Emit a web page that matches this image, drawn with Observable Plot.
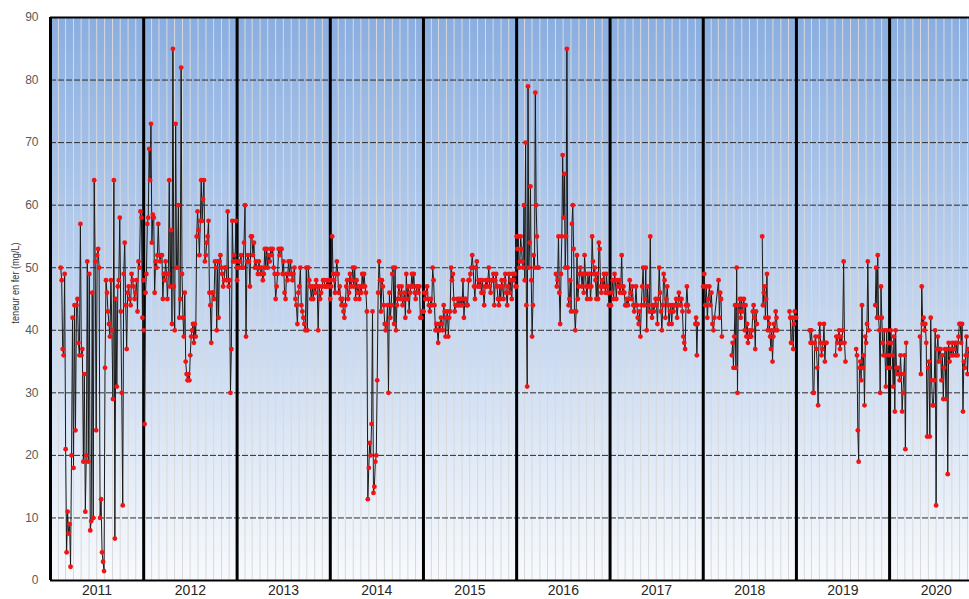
<!DOCTYPE html>
<html>
<head>
<meta charset="utf-8">
<script src="https://cdn.jsdelivr.net/npm/d3@7"></script>
<script src="https://cdn.jsdelivr.net/npm/@observablehq/plot@0.6"></script>
<style>
  html, body { margin: 0; padding: 0; background: #ffffff; }
  #chart svg { display: block; }
</style>
</head>
<body>
<div id="chart"></div>
<script>
// ---- tick labels / categories ----
const years = [2011, 2012, 2013, 2014, 2015, 2016, 2017, 2018, 2019, 2020];
const yTicks = [0, 10, 20, 30, 40, 50, 60, 70, 80, 90];
const dashedLevels = [10, 20, 30, 40, 50, 60, 70, 80];
const yLabel = "teneur en fer (mg/L)";

// ---- iron content readings (mg/L), in time order within each sampling span ----
const fe2011 = [50, 48, 37, 36, 49, 21, 4.5, 11, 7.5, 9, 2.2, 20, 42, 18, 44, 24, 44, 45, 38, 36, 57, 36, 37, 19, 33, 11, 20, 51, 19, 49, 8, 9.5, 46, 10, 64, 51, 24, 52, 53, 50, 10, 13, 4.5, 3, 1.5, 34, 48, 46, 43, 41, 39, 48, 40, 29, 64, 6.7, 45, 31, 47, 48, 58, 43, 30, 12, 49, 54, 44, 37, 46, 47, 45, 44, 49, 48, 47, 45, 46, 48, 43, 51, 50, 59, 58, 42, 48];
const fe2012 = [40, 25, 46, 49, 57, 58, 69, 64, 73, 54, 58.5, 58, 46, 51, 50, 52, 57, 52, 51, 52, 52, 45, 49, 48, 51, 49, 45, 49, 64, 47, 56, 41, 85, 47, 40, 73, 50, 50, 60, 42, 45, 82, 49, 42, 39, 46, 35, 33, 32, 33, 32, 36, 39, 40, 41, 38, 41, 39, 55, 59, 56, 52, 57.5, 64, 57.5, 61, 64, 51, 52, 54, 55, 57.5, 46, 44, 38, 46, 46, 45, 51, 50, 40, 51, 42, 51, 52, 50, 49, 47, 48, 50, 50, 48, 59, 47, 48, 30, 37, 57.5, 51, 52, 51, 57.5, 50];
const fe2013 = [48, 51, 50, 51, 52, 50, 50, 54, 60, 39, 51, 52, 51, 47, 55, 55, 52, 54, 50, 51, 50, 49, 51, 50, 49, 50, 48, 49, 53, 50, 53, 50, 52, 51, 53, 52, 53, 50, 49, 45, 47, 49, 53, 52, 53, 53, 49, 51, 46, 45, 49, 48, 51, 49, 51, 49, 48, 49, 50, 45, 44, 41, 46, 47, 50, 44, 43, 42, 41, 40, 50, 40, 50, 48, 47, 45, 47, 45, 47, 46, 48, 47, 40, 47, 45, 46, 47, 48, 48, 47, 47, 48, 47, 48, 48];
const fe2014 = [45, 47, 55, 49, 48, 46, 49, 51, 49, 46, 47, 45, 44, 45, 43, 42, 44, 47, 48, 45, 46, 49, 47, 48, 50, 47, 50, 45, 48, 46, 47, 45, 47, 46, 49, 47, 49, 47, 46, 43, 13, 18, 22, 20, 25, 43, 14, 15, 19, 20, 32, 46, 51, 48, 43, 48, 47, 44, 41, 40, 41, 44, 30, 46, 42, 44, 49, 50, 41, 50, 40, 44, 45, 47, 46, 45, 47, 44, 45, 46, 42, 49, 45, 47, 43, 46, 47, 49, 47, 49, 46, 45, 47, 47, 46, 47, 42, 42, 43, 43];
const fe2015 = [43, 46, 45, 46, 47, 45, 44, 43, 45, 44, 50, 48, 44, 40, 41, 40, 38, 41, 40, 42, 41, 40, 44, 43, 39, 42, 43, 39, 42, 43, 50, 48, 49, 45, 43, 44, 44, 45, 44, 45, 44, 45, 44, 48, 42, 45, 45, 44, 44, 48, 48, 49, 50, 52, 50, 47, 45, 50, 51, 47, 48, 47, 48, 46, 48, 46, 44, 47, 48, 47, 48, 50, 47, 46, 48, 48, 49, 44, 48, 49, 47, 45, 44, 47, 45, 48, 47, 45, 48, 49, 46, 44, 47, 49, 46, 48, 45, 49, 48, 49, 47, 47];
const fe2016a = [55, 53, 55, 50, 51, 55, 53, 51, 50, 60, 48, 70, 44, 31, 79, 50, 54, 63, 48, 39, 44, 52, 50, 78, 60, 55, 50, 50];
const fe2016b = [49, 47, 48, 55, 46, 41, 49, 55, 68, 58, 65, 50, 55, 85, 50, 44, 45, 48, 43, 57, 60, 53, 43, 40, 43, 52, 45, 47, 49, 50, 49, 47, 49, 46, 52, 49, 47, 45, 49, 47, 49, 45, 47, 55, 51, 49, 50, 48, 45, 49, 45, 54, 53, 47, 46, 48, 47, 49, 47, 46, 49, 47, 46, 44, 44];
const fe2017a = [44, 44, 46, 48, 45, 49, 48, 45, 48, 47, 48, 46, 47, 52, 46, 47, 46, 44, 44, 45, 44, 45, 48, 46, 45, 47, 44, 43, 44, 47, 44, 42, 41, 43, 39, 44, 47, 50, 44, 45, 50, 40, 47, 44, 43, 55, 43, 42, 44, 43, 44, 45, 44, 41, 45, 50, 46, 43, 40, 44, 49, 48, 42, 45, 47, 44, 41, 43, 44, 41, 44, 43, 44, 44, 45, 42, 44, 46, 45, 44, 45, 43, 39, 38, 37, 44, 47, 44, 43];
const fe2017b = [41, 42, 36, 41];
const fe2018a = [47, 49, 44, 47, 42, 45, 47, 44, 46, 41, 40, 42];
const fe2018b = [48, 42, 46, 45, 39];
const fe2018c = [36, 38, 34, 39, 44, 34, 50, 30, 44, 43, 45, 42, 45, 43, 44, 45, 40, 44, 39, 41, 38, 39, 40, 39, 39, 40, 43, 44, 42, 37, 43, 41];
const fe2018d = [55, 44, 46, 47, 42, 45, 49, 40, 42, 41, 39, 37, 40, 35, 39, 41, 40, 43, 42, 40];
const fe2018e = [43, 42, 38, 38, 42, 37, 41, 43, 42, 42];
const fe2019a = [40, 38, 40, 38, 30, 30, 38, 39, 37, 34, 28, 39, 41, 38, 36, 37, 38, 41, 35, 38, 38];
const fe2019b = [36, 39, 38, 39, 40, 37, 39, 38, 40, 51, 38, 35];
const fe2019c = [37, 36, 24, 19, 34, 35, 32, 44, 34, 36, 28, 39, 38, 41, 51, 40];
const fe2019d = [44, 50, 42, 52, 42, 40, 30, 47, 42, 38, 36, 40, 36, 31, 40, 34, 38, 36, 34, 40, 38, 36, 31, 39, 27, 40, 34, 33, 34, 33, 32, 36, 33, 27, 30, 33, 36, 21, 38];
const fe2020 = [39, 33, 47, 41, 42, 40, 41, 38, 23, 34, 35, 23, 42, 32, 28, 28, 32, 40, 12, 37, 39, 35, 37, 37, 32, 36, 29, 34, 37, 29, 37, 17, 38, 35, 37, 36, 38, 36, 37, 38, 36, 38, 36, 39, 41, 41, 38, 41, 27, 35, 34, 36, 39, 33, 37, 36];

// sampling spans: first date, last date, readings
const spans = [
  ["2011-02-10", "2011-12-31", fe2011],
  ["2012-01-01", "2012-12-31", fe2012],
  ["2013-01-01", "2013-12-31", fe2013],
  ["2014-01-01", "2014-12-31", fe2014],
  ["2015-01-01", "2015-12-31", fe2015],
  ["2016-01-01", "2016-03-27", fe2016a],
  ["2016-06-03", "2016-12-31", fe2016b],
  ["2017-01-01", "2017-11-05", fe2017a],
  ["2017-12-01", "2017-12-10", fe2017b],
  ["2018-01-01", "2018-02-14", fe2018a],
  ["2018-03-02", "2018-03-15", fe2018b],
  ["2018-04-23", "2018-07-30", fe2018c],
  ["2018-08-20", "2018-10-18", fe2018d],
  ["2018-12-05", "2018-12-31", fe2018e],
  ["2019-02-22", "2019-04-29", fe2019a],
  ["2019-06-03", "2019-07-12", fe2019b],
  ["2019-08-23", "2019-10-11", fe2019c],
  ["2019-11-06", "2020-03-06", fe2019d],
  ["2020-04-29", "2020-11-08", fe2020]
];

const parse = d3.utcParse("%Y-%m-%d");
const DAY = 864e5;
const data = [];
let prevEnd = null;
for (const [s, e, vals] of spans) {
  const t0 = parse(s), t1 = parse(e);
  if (prevEnd && (t0 - prevEnd) > 20 * DAY) {
    data.push({date: new Date((+prevEnd + +t0) / 2), fe: NaN}); // break the line at sampling gaps
  }
  vals.forEach((v, i) => {
    data.push({date: new Date(+t0 + (t1 - t0) * i / (vals.length - 1)), fe: v});
  });
  prevEnd = t1;
}
const points = data.filter(d => Number.isFinite(d.fe));

const xStart = new Date(Date.UTC(2011, 0, 1));
const xEnd = new Date(Date.UTC(2020, 10, 9));
const yearStarts = years.slice(1).map(y => new Date(Date.UTC(y, 0, 1)));
const yearMids = years.map(y => new Date(Date.UTC(y, 6, 2)));
const months = d3.utcMonth.range(new Date(Date.UTC(2011, 1, 1)), xEnd);

const FRAME_FILL = "#8db0e2";

const plot = Plot.plot({
  width: 969,
  height: 599,
  marginTop: 17,
  marginBottom: 19,
  marginLeft: 50,
  marginRight: 0,
  style: {fontFamily: "'Liberation Sans', Arial, sans-serif", background: "#ffffff", overflow: "hidden"},
  x: {type: "utc", domain: [xStart, xEnd]},
  y: {domain: [0, 90]},
  marks: [
    Plot.frame({fill: FRAME_FILL, stroke: "none"}),
    Plot.ruleX(months, {stroke: "#d9d9d9", strokeWidth: 1}),
    Plot.ruleY(dashedLevels, {stroke: "#2b2b2b", strokeWidth: 1, strokeDasharray: "6,2"}),
    Plot.ruleY([90], {stroke: "#000000", strokeWidth: 2}),
    Plot.ruleX(yearStarts, {stroke: "#000000", strokeWidth: 3}),
    Plot.line(data, {x: "date", y: "fe", stroke: "#1a1a1a", strokeWidth: 1, clip: true}),
    Plot.dot(points, {x: "date", y: "fe", r: 2.4, fill: "#f01414", stroke: "none", clip: true}),
    Plot.ruleY([0], {stroke: "#000000", strokeWidth: 2}),
    Plot.ruleX([xStart], {stroke: "#000000", strokeWidth: 3}),
    Plot.axisY({ticks: yTicks, tickSize: 0, tickPadding: 12, fontSize: 12, color: "#595959", label: null}),
    Plot.axisX({ticks: yearMids, tickFormat: d => String(d.getUTCFullYear()), tickSize: 0, tickPadding: 5, fontSize: 14, color: "#262626", label: null}),
    Plot.text([yLabel], {frameAnchor: "left", dx: -35, dy: -16, rotate: -90, textAnchor: "middle", fontSize: 11.5, fill: "#333333", text: d => d, className: "ylab"})
  ]
});

// background gradient for the plotting area
const ns = "http://www.w3.org/2000/svg";
const defs = document.createElementNS(ns, "defs");
defs.innerHTML = '<linearGradient id="bgGrad" x1="0" y1="0" x2="0" y2="1">' +
  '<stop offset="0" stop-color="#8aaee1"/><stop offset="1" stop-color="#f8fafd"/></linearGradient>';
plot.insertBefore(defs, plot.firstChild);
const fr = plot.querySelector('[aria-label="frame"]');
if (fr) {
  [fr, ...fr.querySelectorAll("rect")].forEach(el => {
    if (el.getAttribute("fill")) el.setAttribute("fill", "url(#bgGrad)");
  });
}
// narrow the axis title like the original condensed font
plot.querySelectorAll(".ylab text").forEach(t => {
  const tr = t.getAttribute("transform") || "";
  t.setAttribute("transform", tr + " scale(0.8,1)");
});

document.getElementById("chart").appendChild(plot);
</script>
</body>
</html>
